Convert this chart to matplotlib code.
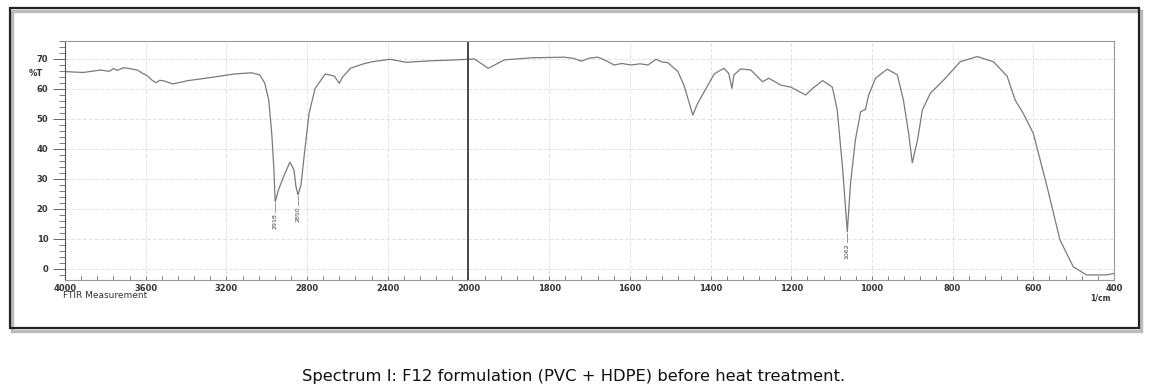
import numpy as np
import matplotlib
matplotlib.use("Agg")
import matplotlib.pyplot as plt
from matplotlib.patches import Rectangle
from matplotlib.ticker import FixedLocator

# spectrum (1/cm, %T)
wavenumber = [4000, 3910, 3825, 3780, 3760, 3740, 3710, 3680, 3640, 3620, 3590, 3570, 3550,
              3530, 3510, 3465, 3390, 3290, 3160, 3075, 3035, 3010, 2990, 2975, 2965, 2958,
              2942, 2917, 2885, 2865, 2855, 2845, 2830, 2815, 2790, 2760, 2710, 2665, 2640,
              2625, 2585, 2515, 2475, 2390, 2340, 2310, 2185, 2100, 1985, 1951, 1911, 1844,
              1762, 1740, 1720, 1700, 1679, 1660, 1639, 1620, 1597, 1575, 1555, 1535, 1520,
              1506, 1481, 1466, 1444, 1432, 1411, 1391, 1367, 1355, 1347, 1342, 1325, 1300,
              1271, 1256, 1226, 1201, 1164, 1147, 1122, 1098, 1086, 1073, 1061, 1053, 1041,
              1028, 1016, 1008, 991, 962, 937, 922, 909, 900, 887, 875, 855, 822, 781, 739,
              699, 665, 645, 625, 600, 566, 534, 501, 468, 418, 400]
transmittance = [65.8, 65.5, 66.3, 65.9, 66.8, 66.2, 67.1, 66.8, 66.3, 65.4, 64.3, 63.0, 62.1,
                 62.9, 62.7, 61.7, 62.8, 63.7, 65.0, 65.4, 64.7, 62.0, 56.3, 45.0, 34.0, 22.4,
                 26.3, 30.7, 35.6, 33.0, 27.4, 24.7, 28.0, 37.4, 51.9, 60.2, 65.0, 64.3, 61.9,
                 63.9, 66.9, 68.5, 69.1, 69.9, 69.3, 68.9, 69.4, 69.6, 70.0, 66.9, 69.7, 70.4,
                 70.6, 70.2, 69.3, 70.3, 70.6, 69.5, 68.0, 68.5, 68.0, 68.4, 68.0, 69.9, 69.0,
                 68.8, 65.8, 61.3, 51.3, 55.2, 60.2, 65.0, 66.9, 65.2, 60.2, 64.7, 66.7, 66.3,
                 62.4, 63.6, 61.3, 60.6, 58.0, 60.2, 62.8, 60.6, 53.0, 34.0, 12.4, 28.6, 43.0,
                 52.4, 53.2, 58.0, 63.6, 66.6, 64.7, 56.3, 45.2, 35.4, 43.0, 53.0, 58.6, 63.0,
                 69.1, 70.8, 69.1, 64.3, 56.3, 51.9, 45.2, 27.5, 9.7, 0.7, -2.0, -2.0, -1.5]

peak_pos = [2958, 2845, 1061]
peak_val = [22.4, 24.7, 12.4]
peak_txt = ["2918", "2850", "1062"]

x_ticks = [4000, 3600, 3200, 2800, 2400, 2000, 1800, 1600, 1400, 1200, 1000, 800, 600, 400]
y_ticks = [0, 10, 20, 30, 40, 50, 60, 70]


# scale changes at 2000 1/cm (right half is expanded x2)
def fwd(w):
    w = np.asarray(w, dtype=float)
    return np.where(w >= 2000, w, 2 * w - 2000)


def inv(u):
    u = np.asarray(u, dtype=float)
    return np.where(u >= 2000, u, (u + 2000) / 2)


fig = plt.figure(figsize=(11.54, 3.91), dpi=100)
ax = fig.add_axes([65 / 1154, 1 - 280 / 391, 1049 / 1154, 239 / 391])
ax.set_xscale('function', functions=(fwd, inv))
ax.set_xlim(4000, 400)
ax.set_ylim(-3.7, 76)

ax.plot(wavenumber, transmittance, color='#7a7a7a', lw=0.9)

for p, v, t in zip(peak_pos, peak_val, peak_txt):
    ax.plot([p, p], [v - 0.5, v - 3.5], color='#888888', lw=0.6)
    ax.text(p, v - 4, t, rotation=90, ha='center', va='top', fontsize=4.5, color='#444444')

ax.axvline(2000, color='#3a3a3a', lw=1.3)

ax.xaxis.set_major_locator(FixedLocator(x_ticks))
minors = list(range(3920, 2000, -80)) + list(range(1960, 400, -40))
ax.xaxis.set_minor_locator(FixedLocator([m for m in minors if m not in x_ticks]))
ax.yaxis.set_major_locator(FixedLocator(y_ticks))
ax.yaxis.set_minor_locator(FixedLocator([v for v in range(-2, 77, 2) if v % 10 != 0]))

ax.tick_params(axis='x', which='both', direction='in', length=3, width=0.6, color='#666666',
               labelsize=6, labelcolor='#333333', pad=3)
ax.tick_params(axis='y', which='major', direction='out', length=9, width=0.7, color='#666666',
               labelsize=6, labelcolor='#333333', pad=3)
ax.tick_params(axis='y', which='minor', direction='out', length=4, width=0.6, color='#666666')
for lab in ax.get_xticklabels() + ax.get_yticklabels():
    lab.set_fontweight('bold')

ax.grid(True, which='major', color='#e2e2e2', lw=0.7, ls=(0, (4, 2)))
for s in ['top', 'right', 'bottom']:
    ax.spines[s].set_color('#999999')
    ax.spines[s].set_linewidth(0.8)
ax.spines['left'].set_color('#555555')

ax.text(-0.021, 65.3, '%T', transform=ax.get_yaxis_transform(), ha='right', va='center',
        fontsize=6, fontweight='bold', color='#333333')
fig.text(63 / 1154, 1 - 296 / 391, 'FTIR Measurement', fontsize=6.5, color='#333333',
         ha='left', va='center')
fig.text(1100 / 1154, 1 - 298 / 391, '1/cm', fontsize=5.5, color='#333333',
         fontweight='bold', ha='center', va='center')

# scan frame
fig.patches.append(Rectangle((12 / 1154, 1 - 331 / 391), 1129 / 1154, 320 / 391,
                             transform=fig.transFigure, facecolor='none',
                             edgecolor='#bbbbbb', lw=2.5, zorder=0))
fig.patches.append(Rectangle((10 / 1154, 1 - 328 / 391), 1129 / 1154, 320 / 391,
                             transform=fig.transFigure, facecolor='none',
                             edgecolor='#222222', lw=1.6, zorder=1))

fig.text(0.497, 1 - 377 / 391, 'Spectrum I: F12 formulation (PVC + HDPE) before heat treatment.',
         fontsize=11.8, ha='center', va='center', color='#111111')

fig.savefig('out.png', dpi=100)
